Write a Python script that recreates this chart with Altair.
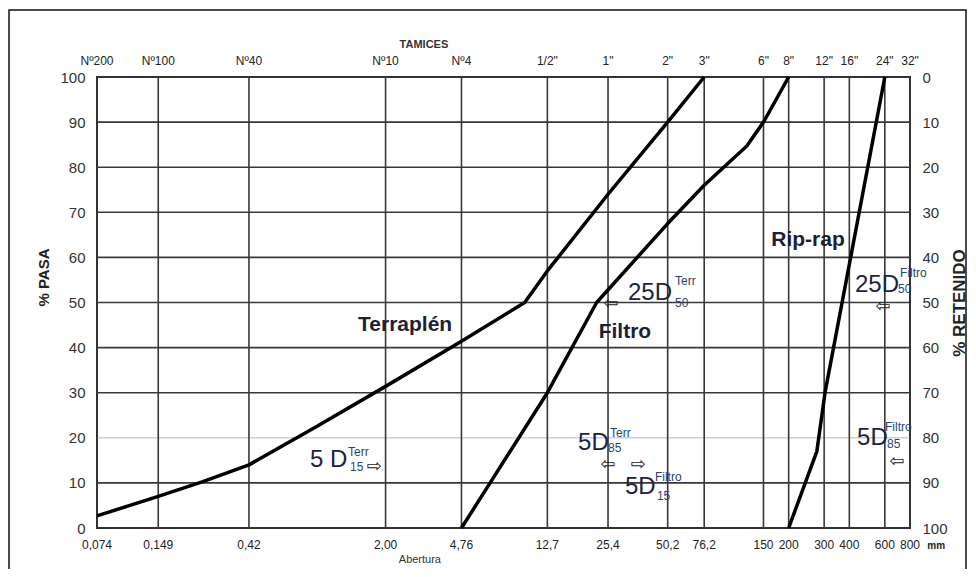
import altair as alt
import pandas as pd

# ---------------- data ----------------
sizes = [0.074, 0.149, 0.42, 2.00, 4.76, 12.7, 25.4, 50.2, 76.2, 150, 200, 300, 400, 600, 800]
size_labels = ["0,074", "0,149", "0,42", "2,00", "4,76", "12,7", "25,4", "50,2", "76,2",
               "150", "200", "300", "400", "600", "800"]
sieve_names = ["Nº200", "Nº100", "Nº40", "Nº10", "Nº4", '1/2"', '1"', '2"', '3"',
               '6"', '8"', '12"', '16"', '24"', '32"']
pasa_ticks = [0, 10, 20, 30, 40, 50, 60, 70, 80, 90, 100]

terr_d = [0.074, 0.149, 0.248, 0.42, 0.91, 2.00, 4.76, 9.8, 12.7, 25.4, 50.2, 76.2]
terr_p = [2.7, 7.0, 10.3, 14.0, 22.5, 31.4, 41.4, 50.0, 57.0, 74.0, 90.0, 100.0]

filt_d = [4.76, 12.7, 22.3, 50.2, 76.2, 124, 150, 200]
filt_p = [0.0, 30.0, 50.0, 67.5, 76.0, 84.7, 90.0, 100.0]

rip_d = [200, 276, 303, 600]
rip_p = [0.0, 17.0, 30.0, 100.0]

name_text = ["Terraplén", "Filtro", "Rip-rap"]
name_x = [2.5, 30.8, 249.5]
name_y = [45.0, 43.5, 63.9]

d_text = ["25D", "5 D", "5D", "5D", "25D", "5D"]
d_x = [31.9, 0.843, 18.03, 30.8, 426.9, 436.8]
d_y = [52.1, 15.1, 18.8, 9.0, 53.9, 19.9]

sup_text = ["Terr", "Terr", "Terr", "Filtro", "Filtro", "Filtro"]
sup_x = [54.6, 1.302, 25.98, 43.4, 714, 601]
sup_y = [54.8, 16.9, 21.1, 11.3, 56.6, 22.4]

sub_text = ["50", "15", "85", "15", "50", "85"]
sub_x = [54.6, 1.332, 25.39, 44.4, 698, 615]
sub_y = [49.8, 13.5, 17.7, 7.0, 52.9, 18.6]

arrow_text = ["⇦", "⇨", "⇦", "⇨", "⇦", "⇦"]
arrow_x = [26.3, 1.753, 25.4, 35.8, 587.8, 690]
arrow_y = [49.6, 13.6, 14.0, 14.0, 48.9, 14.6]

# ---------------- tables ----------------
curves = pd.concat([
    pd.DataFrame({"d": terr_d, "p": terr_p, "serie": "Terraplén", "o": range(len(terr_d))}),
    pd.DataFrame({"d": filt_d, "p": filt_p, "serie": "Filtro", "o": range(len(filt_d))}),
    pd.DataFrame({"d": rip_d, "p": rip_p, "serie": "Rip-rap", "o": range(len(rip_d))}),
])
vgrid = pd.DataFrame({"d": sizes, "name": sieve_names, "lab": size_labels})
hgrid = pd.DataFrame({"p": pasa_ticks})
names = pd.DataFrame({"d": name_x, "p": name_y, "t": name_text})
dlab = pd.DataFrame({"d": d_x, "p": d_y, "t": d_text})
sups = pd.DataFrame({"d": sup_x, "p": sup_y, "t": sup_text})
subs = pd.DataFrame({"d": sub_x, "p": sub_y, "t": sub_text})
arrows = pd.DataFrame({"d": arrow_x, "p": arrow_y, "t": arrow_text})
extra = pd.DataFrame({"d": [2.96], "t": ["Abertura"]})
mm = pd.DataFrame({"d": [975.0], "t": ["mm"]})
tam = pd.DataFrame({"d": [3.10], "t": ["TAMICES"]})
one = pd.DataFrame({"a": [0]})

W, H = 813, 451
FONT = "Liberation Sans"
GRID = "#383838"

xs = alt.Scale(type="log", domain=[0.074, 800], nice=False)
ys = alt.Scale(domain=[0, 100], nice=False, zero=False)

frame = alt.Chart(one).mark_rect(fillOpacity=0, stroke="#111", strokeWidth=1.5).encode(
    x=alt.value(-88), x2=alt.value(869), y=alt.value(-67), y2=alt.value(520)
)

hlines = alt.Chart(hgrid).mark_rule(strokeWidth=1.6).encode(
    y=alt.Y("p:Q", scale=ys, axis=alt.Axis(
        orient="right", values=pasa_ticks, labelExpr="toString(100 - datum.value)",
        title="% RETENIDO", titleAngle=270, titleFontSize=17, titleFontWeight="bold",
        titleX=49, titleBaseline="middle", titleColor="#222",
        labelFontSize=15, labelColor="#333",
        labelPadding=12, ticks=False, domain=False, grid=False, labelFont=FONT, titleFont=FONT)),
    color=alt.condition("datum.p == 20", alt.value("#d0d0d0"), alt.value(GRID)),
)

vlines = alt.Chart(vgrid).mark_rule(strokeWidth=1.6, color=GRID).encode(
    x=alt.X("d:Q", scale=xs, axis=None),
)

lines = alt.Chart(curves).mark_line(color="black", strokeWidth=3.5, strokeJoin="round").encode(
    x=alt.X("d:Q", scale=xs, axis=None),
    y=alt.Y("p:Q", scale=ys, axis=alt.Axis(
        orient="left", values=pasa_ticks, title="% PASA", titleFontSize=15,
        titleFontWeight="bold", titlePadding=8, titleY=200, titleColor="#222",
        labelFontSize=15, labelColor="#333", labelPadding=12, ticks=False, domain=False,
        grid=False, labelFont=FONT, titleFont=FONT)),
    detail="serie:N",
    order="o:Q",
)

top_labels = alt.Chart(vgrid).mark_text(fontSize=12, font=FONT, color="#222", baseline="middle").encode(
    x=alt.X("d:Q", scale=xs, axis=None), y=alt.value(-16), text="name:N"
)
bottom_labels = alt.Chart(vgrid).mark_text(fontSize=12, font=FONT, color="#222", baseline="middle").encode(
    x=alt.X("d:Q", scale=xs, axis=None), y=alt.value(H + 17), text="lab:N"
)
tam_txt = alt.Chart(tam).mark_text(fontSize=11, font=FONT, fontWeight="bold", color="#333").encode(
    x=alt.X("d:Q", scale=xs, axis=None), y=alt.value(-32), text="t:N"
)
ab_txt = alt.Chart(extra).mark_text(fontSize=11, font=FONT, color="#333").encode(
    x=alt.X("d:Q", scale=xs, axis=None), y=alt.value(H + 32), text="t:N"
)
mm_txt = alt.Chart(mm).mark_text(fontSize=10, font=FONT, fontWeight="bold", color="#222", align="left").encode(
    x=alt.X("d:Q", scale=xs, axis=None), y=alt.value(H + 18), text="t:N"
)

name_txt = alt.Chart(names).mark_text(fontSize=21, font=FONT, fontWeight="bold", color="#1e1e34").encode(
    x=alt.X("d:Q", scale=xs, axis=None), y=alt.Y("p:Q", scale=ys, axis=None), text="t:N"
)
d_txt = alt.Chart(dlab).mark_text(fontSize=24, font=FONT, color="#1c2340", align="left", baseline="middle").encode(
    x=alt.X("d:Q", scale=xs, axis=None), y=alt.Y("p:Q", scale=ys, axis=None), text="t:N"
)
sup_txt = alt.Chart(sups).mark_text(fontSize=12, font=FONT, color="#2a4370", align="left", baseline="middle").encode(
    x=alt.X("d:Q", scale=xs, axis=None), y=alt.Y("p:Q", scale=ys, axis=None), text="t:N"
)
sub_txt = alt.Chart(subs).mark_text(fontSize=12, font=FONT, color="#2a4370", align="left", baseline="middle").encode(
    x=alt.X("d:Q", scale=xs, axis=None), y=alt.Y("p:Q", scale=ys, axis=None), text="t:N"
)
arr_txt = alt.Chart(arrows).mark_text(fontSize=18, font="DejaVu Sans", color="#222", baseline="middle").encode(
    x=alt.X("d:Q", scale=xs, axis=None), y=alt.Y("p:Q", scale=ys, axis=None), text="t:N"
)

chart = alt.layer(
    frame, hlines, vlines, lines, top_labels, bottom_labels, tam_txt, ab_txt, mm_txt,
    name_txt, d_txt, sup_txt, sub_txt, arr_txt
).resolve_axis(y="independent").properties(
    width=W, height=H,
    padding={"left": 89, "top": 69, "right": 58, "bottom": 41},
    autosize=alt.AutoSizeParams(type="none"),
    background="white",
).configure_view(stroke="#222", strokeWidth=2)

chart.save("out.html", embed_options={"renderer": "svg", "actions": False})
